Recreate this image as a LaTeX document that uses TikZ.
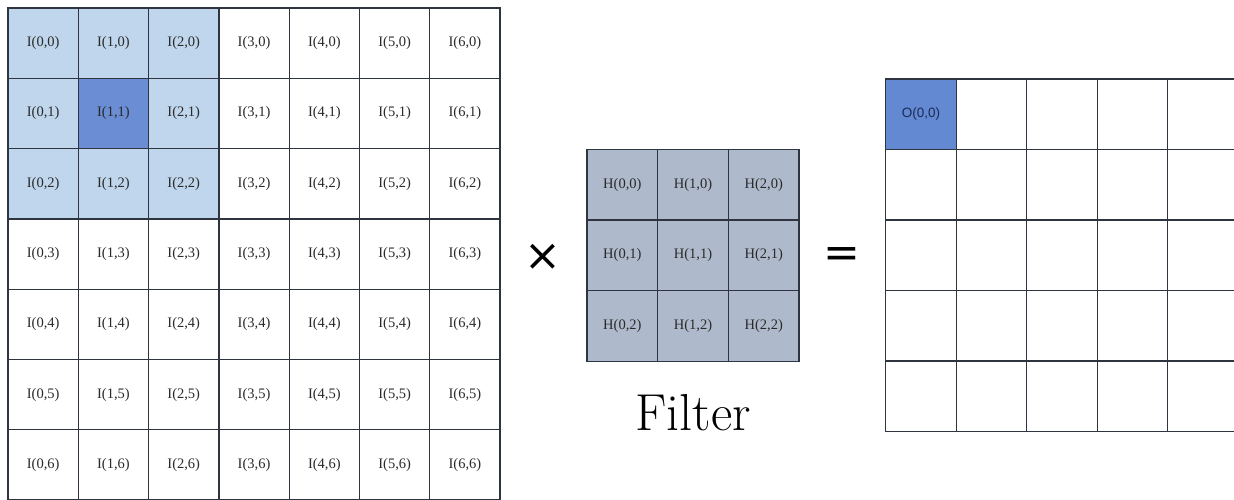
\documentclass[tikz,border=0pt]{standalone}
\usepackage{fontspec}
\newfontfamily\symfont{DejaVu Sans}
\newfontfamily\labelsans{Liberation Sans}
\newfontfamily\cellserif{Liberation Serif}
\definecolor{gridline}{HTML}{2E3440}
\definecolor{winlight}{HTML}{BFD6EC}
\definecolor{wincenter}{HTML}{6A8DD4}
\definecolor{filterfill}{HTML}{AEBACB}
\definecolor{outfill}{HTML}{6389D2}
\definecolor{celltext}{HTML}{2A2A2A}
\definecolor{outtext}{HTML}{1B2A55}
\tikzset{
  incell/.style={draw=gridline, line width=1.3pt, minimum size=70.3pt, inner sep=0pt,
    text=celltext, font=\cellserif\fontsize{14.5}{16}\selectfont},
  fcell/.style={incell, minimum size=70.7pt, fill=filterfill},
  outcell/.style={incell, minimum size=70.5pt},
  opsign/.style={font=\symfont\fontsize{44}{50}\selectfont, inner sep=0pt, text=black},
}
\begin{document}
\begin{tikzpicture}[x=1pt,y=-1pt]
\useasboundingbox (0,0) rectangle (1234,499);
\clip (0,0) rectangle (1234,499);
% input image, 7x7, with the 3x3 window shaded in the top-left corner
\foreach \i in {0,...,6}{
  \foreach \j in {0,...,6}{
    \def\cellfill{white}
    \ifnum\i<3 \ifnum\j<3 \def\cellfill{winlight}\fi\fi
    \ifnum\i=1 \ifnum\j=1 \def\cellfill{wincenter}\fi\fi
    \node[incell, fill=\cellfill] (in-\i-\j) at ({8+70.3*(\i+0.5)},{8+70.3*(\j+0.5)}) {I(\i,\j)};
  }
}
% filter, 3x3
\foreach \i in {0,1,2}{
  \foreach \j in {0,1,2}{
    \node[fcell] (h-\i-\j) at ({587+70.7*(\i+0.5)},{149.3+70.7*(\j+0.5)}) {H(\i,\j)};
  }
}
\node[font=\fontsize{52}{58}\selectfont, anchor=base, text=black] (flabel) at (693,430) {Filter};
% output grid
\foreach \i in {0,...,4}{
  \foreach \j in {0,...,4}{
    \ifnum\i=0 \ifnum\j=0
      \node[outcell, fill=outfill, text=outtext, font=\labelsans\fontsize{13.5}{15}\selectfont]
        (out-\i-\j) at ({885.7+70.5*(\i+0.5)},{79+70.5*(\j+0.5)}) {O(0,0)};
    \else
      \node[outcell] (out-\i-\j) at ({885.7+70.5*(\i+0.5)},{79+70.5*(\j+0.5)}) {};
    \fi
    \else
      \node[outcell] (out-\i-\j) at ({885.7+70.5*(\i+0.5)},{79+70.5*(\j+0.5)}) {};
    \fi
  }
}
% operators
\node[opsign] (times) at (543,257) {×};
\node[opsign] (equals) at (842,258) {=};
\end{tikzpicture}
\end{document}
